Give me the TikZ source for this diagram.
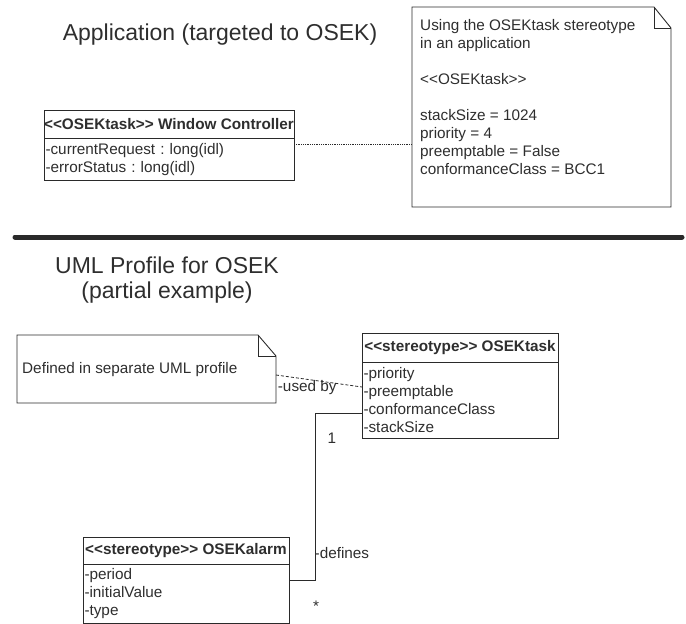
\documentclass[tikz,border=0pt]{standalone}
\usepackage{fontspec}
\setmainfont{Liberation Sans}[Ligatures=TeXOff]
\usetikzlibrary{positioning,calc}
\definecolor{uml-text}{HTML}{2E2E2E}
\definecolor{uml-line}{HTML}{2A2A2A}
\frenchspacing

\begin{document}
\begin{tikzpicture}[
    x=1pt, y=-1pt, % screen-like units, y runs downwards
    node distance=0pt,
    font=\fontsize{15.3}{18}\selectfont,
    text=uml-text
  ]

  % Styles for class boxes, notes and headings
  \tikzset{
    classhead/.style={draw=uml-line, line width=1pt, outer sep=0pt, inner sep=0pt, font=\fontsize{15.3}{18}\selectfont\bfseries},
    classbody/.style={draw=uml-line, line width=1pt, outer sep=0pt, inner xsep=1.5pt, inner ysep=5pt, align=left},
    notebox/.style={outer sep=0pt, inner sep=0pt},
    noteline/.style={draw=uml-line, line width=0.9pt, line join=miter},
    notetext/.style={inner sep=0pt, align=left, anchor=north west},
    heading/.style={font=\fontsize{23}{25}\selectfont, align=center},
    link/.style={draw=uml-line, line width=1pt}
  }

  \useasboundingbox (0,0) rectangle (686,624);

  % Application (upper half)
  \node (apptitle) [heading] at (220,35) {Application (targeted to OSEK)};

  \node (wchead) [classhead, anchor=north west, minimum width=250pt, minimum height=28pt] at (44,110)
    {<<OSEKtask>> Window Controller};
  \node (wcbody) [classbody, below=of wchead, text width=247pt, minimum height=41pt]
    {-currentRequest : long(idl)\\-errorStatus : long(idl)};

  \node (appnote) [notebox, anchor=north west, minimum width=259pt, minimum height=200pt] at (412,7) {};
  \node (appnotetext) [notetext] at ([shift={(8,12)}]appnote.north west)
    {Using the OSEKtask stereotype\\in an application\\[18pt]<<OSEKtask>>\\[18pt]stackSize = 1024\\priority = 4\\preemptable = False\\conformanceClass = BCC1};
  \draw[noteline] (appnote.south west) -- (appnote.north west) -- ([xshift=-17pt]appnote.north east)
    -- ([yshift=-21pt]appnote.north east) -- (appnote.south east) -- cycle;
  \draw[noteline] ([xshift=-17pt]appnote.north east) |- ([yshift=-21pt]appnote.north east);

  \coordinate (wclink) at ($(wcbody.north east)+(0,6)$);
  \draw[link, line width=0.8pt, densely dotted] (wclink) -- (wclink -| appnote.west);

  % separator
  \draw[line width=5pt, line cap=round, uml-line] (15,237) -- (682,237);

  % UML profile (lower half)
  \node (proftitle) [heading] at (167,280) {UML Profile for OSEK\\(partial example)};

  \node (infonote) [notebox, anchor=north west, minimum width=259pt, minimum height=68pt] at (17,335) {};
  \node (infonotetext) [notetext] at ([shift={(5,27)}]infonote.north west) {Defined in separate UML profile};
  \draw[noteline] (infonote.south west) -- (infonote.north west) -- ([xshift=-18pt]infonote.north east)
    -- ([yshift=-21pt]infonote.north east) -- (infonote.south east) -- cycle;
  \draw[noteline] ([xshift=-18pt]infonote.north east) |- ([yshift=-21pt]infonote.north east);

  \node (taskhead) [classhead, anchor=north west, minimum width=196pt, minimum height=29pt] at (362,333)
    {<<stereotype>> OSEKtask};
  \node (taskbody) [classbody, below=of taskhead, text width=193pt, minimum height=76pt]
    {-priority\\-preemptable\\-conformanceClass\\-stackSize};

  \node (alarmhead) [classhead, anchor=north west, minimum width=206pt, minimum height=27pt] at (83,537)
    {<<stereotype>> OSEKalarm};
  \node (alarmbody) [classbody, inner ysep=4pt, below=of alarmhead, text width=203pt, minimum height=59pt]
    {-period\\-initialValue\\-type};

  % used-by dependency
  \coordinate (usedfrom) at ($(infonote.north east)+(0,40)$);
  \coordinate (usedto) at ($(taskbody.north west)+(0,25)$);
  \draw[link, line width=0.8pt, densely dashed] (usedfrom) --
    node[pos=0, anchor=west, xshift=1pt, yshift=-13pt, inner sep=0.5pt] {-used by} (usedto);

  % defines association
  \coordinate (assocfrom) at ($(taskbody.north west)+(0,51)$);
  \coordinate (assocto) at ($(alarmbody.north east)+(0,16)$);
  \draw[link] (assocfrom) -- ++(-47,0) coordinate (bend) |- (assocto);
  \node (onemult) at ($(bend)+(17,25)$) {1};
  \node (defines) [anchor=west, inner sep=0.5pt] at ($(bend)+(-1,140)$) {-defines};
  \node (manymult) at ($(bend |- assocto)+(1,26)$) {*};

\end{tikzpicture}
\end{document}
